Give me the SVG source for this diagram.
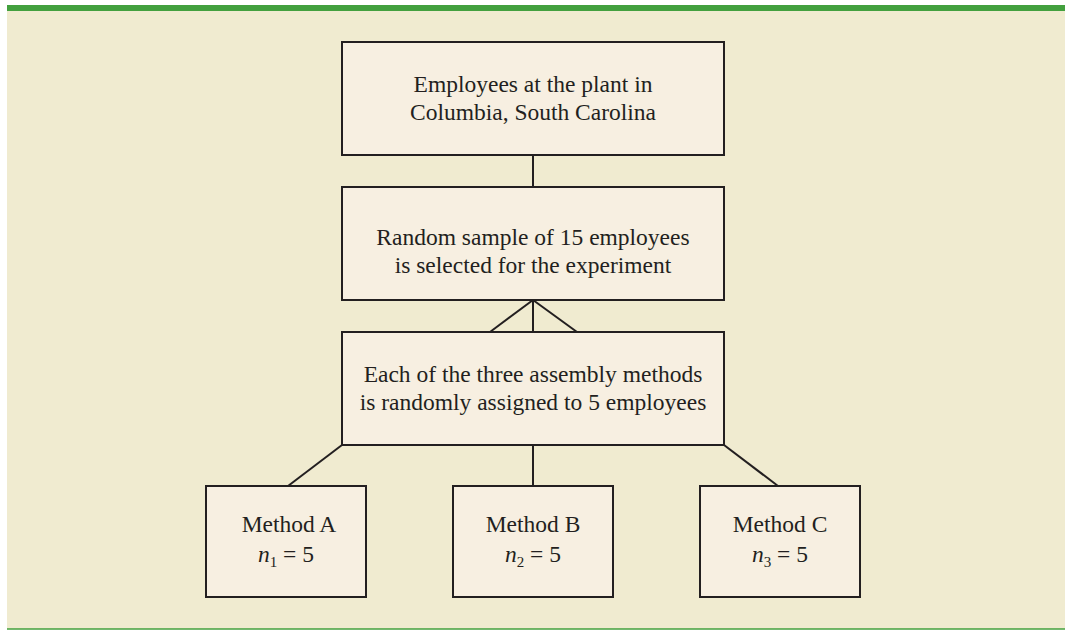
<svg xmlns="http://www.w3.org/2000/svg" width="1068" height="630" viewBox="0 0 1068 630">
<style>
.box{fill:#f7efe1;stroke:#231f20;stroke-width:2}
.t{font-family:"Liberation Serif","Times New Roman",serif;font-size:23.5px;fill:#231f20;text-anchor:middle}
.i{font-style:italic}
.s{font-size:15px}
.c{stroke:#231f20;stroke-width:2;fill:none}
</style>
<rect x="0" y="0" width="1068" height="630" fill="#ffffff"/>
<rect x="7" y="11" width="1058" height="618" fill="#f0ebd0"/>
<rect x="7" y="5" width="1058" height="6" fill="#43a03e"/>
<line x1="7" y1="629" x2="1065" y2="629" stroke="#43a03e" stroke-width="1.5"/>
<g id="connectors">
<line class="c" x1="533" y1="155" x2="533" y2="187"/>
<line class="c" x1="533" y1="300" x2="533" y2="332"/>
<line class="c" x1="533" y1="300" x2="490" y2="332"/>
<line class="c" x1="533" y1="300" x2="577" y2="332"/>
<line class="c" x1="342" y1="445" x2="288" y2="486"/>
<line class="c" x1="533" y1="445" x2="533" y2="486"/>
<line class="c" x1="724" y1="445" x2="778" y2="486"/>
</g>
<g id="population">
<rect class="box" x="342" y="42" width="382" height="113"/>
<text class="t" x="533" y="92">Employees at the plant in</text>
<text class="t" x="533" y="120">Columbia, South Carolina</text>
</g>
<g id="sample">
<rect class="box" x="342" y="187" width="382" height="113"/>
<text class="t" x="533" y="245">Random sample of 15 employees</text>
<text class="t" x="533" y="273">is selected for the experiment</text>
</g>
<g id="assignment">
<rect class="box" x="342" y="332" width="382" height="113"/>
<text class="t" x="533" y="382">Each of the three assembly methods</text>
<text class="t" x="533" y="410">is randomly assigned to 5 employees</text>
</g>
<g id="methodA">
<rect class="box" x="206" y="486" width="160" height="111"/>
<text class="t" x="289" y="532">Method A</text>
<text class="t" x="286" y="562"><tspan class="i">n</tspan><tspan class="s" dy="5">1</tspan><tspan dy="-5"> = 5</tspan></text>
</g>
<g id="methodB">
<rect class="box" x="453" y="486" width="160" height="111"/>
<text class="t" x="533" y="532">Method B</text>
<text class="t" x="533" y="562"><tspan class="i">n</tspan><tspan class="s" dy="5">2</tspan><tspan dy="-5"> = 5</tspan></text>
</g>
<g id="methodC">
<rect class="box" x="700" y="486" width="160" height="111"/>
<text class="t" x="780" y="532">Method C</text>
<text class="t" x="780" y="562"><tspan class="i">n</tspan><tspan class="s" dy="5">3</tspan><tspan dy="-5"> = 5</tspan></text>
</g>
</svg>
